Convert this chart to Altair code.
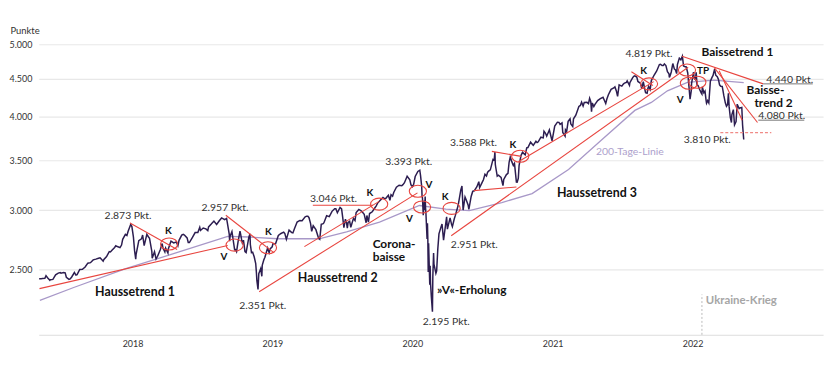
import altair as alt
import pandas as pd

# ---------------- data ----------------
price_2017 = [
    ("2017-06-01", 2430), ("2017-06-09", 2432), ("2017-06-16", 2433), ("2017-06-23", 2438),
    ("2017-06-30", 2423), ("2017-07-07", 2425), ("2017-07-14", 2459), ("2017-07-21", 2472),
    ("2017-07-28", 2472), ("2017-08-04", 2476), ("2017-08-11", 2441), ("2017-08-18", 2425),
    ("2017-08-25", 2443), ("2017-09-01", 2477), ("2017-09-08", 2461), ("2017-09-15", 2500),
    ("2017-09-22", 2502), ("2017-09-29", 2519), ("2017-10-06", 2549), ("2017-10-13", 2553),
    ("2017-10-20", 2575), ("2017-10-27", 2581), ("2017-11-03", 2588), ("2017-11-10", 2582),
    ("2017-11-15", 2565), ("2017-11-17", 2579), ("2017-11-24", 2602), ("2017-12-01", 2642),
    ("2017-12-08", 2652), ("2017-12-15", 2675), ("2017-12-22", 2683), ("2017-12-29", 2674),
    ("2017-06-06", 2429), ("2017-06-19", 2453), ("2017-06-29", 2419), ("2017-07-26", 2477),
    ("2017-08-08", 2474), ("2017-08-21", 2428), ("2017-09-05", 2457), ("2017-11-07", 2591),
    ("2017-12-04", 2639), ("2017-12-18", 2690),
]
price_2018 = [
    ("2018-01-05", 2743), ("2018-01-12", 2786), ("2018-01-19", 2810), ("2018-01-26", 2873),
    ("2018-02-02", 2762), ("2018-02-08", 2581), ("2018-02-09", 2620), ("2018-02-16", 2732),
    ("2018-02-23", 2747), ("2018-02-26", 2780), ("2018-03-02", 2691), ("2018-03-09", 2786),
    ("2018-03-13", 2765), ("2018-03-16", 2752), ("2018-03-23", 2588), ("2018-03-29", 2641),
    ("2018-04-02", 2582), ("2018-04-06", 2604), ("2018-04-13", 2656), ("2018-04-18", 2708),
    ("2018-04-20", 2670), ("2018-04-27", 2670), ("2018-05-03", 2630), ("2018-05-04", 2663),
    ("2018-05-11", 2728), ("2018-05-18", 2713), ("2018-05-25", 2721), ("2018-05-29", 2690),
    ("2018-06-01", 2735), ("2018-06-08", 2779), ("2018-06-12", 2786), ("2018-06-15", 2780),
    ("2018-06-22", 2755), ("2018-06-28", 2716), ("2018-07-06", 2760), ("2018-07-13", 2801),
    ("2018-07-20", 2802), ("2018-07-27", 2819), ("2018-08-03", 2840), ("2018-08-10", 2833),
    ("2018-08-17", 2850), ("2018-08-24", 2875), ("2018-08-31", 2902), ("2018-09-07", 2872),
    ("2018-09-14", 2905), ("2018-09-20", 2930), ("2018-09-28", 2914), ("2018-10-05", 2886),
    ("2018-10-11", 2728), ("2018-10-12", 2767), ("2018-10-17", 2809), ("2018-10-24", 2656),
    ("2018-10-26", 2658), ("2018-10-29", 2641), ("2018-11-02", 2723), ("2018-11-07", 2813),
    ("2018-11-09", 2781), ("2018-11-14", 2702), ("2018-11-16", 2736), ("2018-11-20", 2641),
    ("2018-11-23", 2633), ("2018-11-30", 2760), ("2018-12-03", 2790), ("2018-12-07", 2633),
    ("2018-12-14", 2600), ("2018-12-21", 2417), ("2018-12-24", 2351), ("2018-12-26", 2468),
    ("2018-12-31", 2507),
    ("2018-01-02", 2695), ("2018-01-16", 2776), ("2018-01-29", 2853), ("2018-02-05", 2649),
    ("2018-02-14", 2698), ("2018-03-22", 2643), ("2018-04-25", 2639), ("2018-06-25", 2717),
    ("2018-07-25", 2846), ("2018-08-15", 2818), ("2018-10-03", 2925), ("2018-10-10", 2785),
    ("2018-11-12", 2726), ("2018-12-04", 2700), ("2018-12-10", 2637), ("2018-12-18", 2546),
    ("2018-12-20", 2467),
]
price_2019 = [
    ("2019-01-03", 2448), ("2019-01-04", 2532), ("2019-01-11", 2596), ("2019-01-18", 2671),
    ("2019-01-25", 2665), ("2019-02-01", 2707), ("2019-02-08", 2708), ("2019-02-15", 2776),
    ("2019-02-22", 2793), ("2019-03-01", 2804), ("2019-03-08", 2743), ("2019-03-15", 2822),
    ("2019-03-22", 2801), ("2019-03-29", 2834), ("2019-04-05", 2893), ("2019-04-12", 2907),
    ("2019-04-18", 2905), ("2019-04-26", 2940), ("2019-05-03", 2946), ("2019-05-10", 2881),
    ("2019-05-13", 2812), ("2019-05-17", 2860), ("2019-05-24", 2826), ("2019-05-31", 2752),
    ("2019-06-03", 2744), ("2019-06-07", 2873), ("2019-06-14", 2887), ("2019-06-21", 2950),
    ("2019-06-28", 2942), ("2019-07-05", 2990), ("2019-07-12", 3014), ("2019-07-19", 2977),
    ("2019-07-26", 3026), ("2019-08-02", 2932), ("2019-08-05", 2844), ("2019-08-09", 2919),
    ("2019-08-14", 2840), ("2019-08-16", 2889), ("2019-08-23", 2847), ("2019-08-30", 2926),
    ("2019-09-06", 2979), ("2019-09-13", 3007), ("2019-09-20", 2992), ("2019-09-27", 2962),
    ("2019-10-02", 2887), ("2019-10-04", 2952), ("2019-10-11", 2970), ("2019-10-18", 2986),
    ("2019-10-25", 3023), ("2019-11-01", 3067), ("2019-11-08", 3093), ("2019-11-15", 3120),
    ("2019-11-22", 3110), ("2019-11-29", 3141), ("2019-12-03", 3093), ("2019-12-06", 3146),
    ("2019-12-13", 3169), ("2019-12-20", 3221), ("2019-12-27", 3240),
    ("2019-01-08", 2574), ("2019-01-22", 2633), ("2019-01-30", 2681), ("2019-03-04", 2792),
    ("2019-03-25", 2798), ("2019-04-30", 2946), ("2019-05-06", 2932), ("2019-06-12", 2879),
    ("2019-07-15", 3014), ("2019-07-30", 3013), ("2019-08-12", 2883), ("2019-08-20", 2900),
    ("2019-09-03", 2906), ("2019-10-08", 2893), ("2019-10-28", 3039), ("2019-11-20", 3108),
    ("2019-12-10", 3132),
]
price_2020 = [
    ("2020-01-03", 3235), ("2020-01-10", 3265), ("2020-01-17", 3330), ("2020-01-24", 3295),
    ("2020-01-31", 3226), ("2020-02-07", 3328), ("2020-02-14", 3380), ("2020-02-19", 3393),
    ("2020-02-21", 3338), ("2020-02-25", 3128), ("2020-02-28", 2954), ("2020-03-03", 3003),
    ("2020-03-04", 3130), ("2020-03-06", 2972), ("2020-03-09", 2747), ("2020-03-10", 2882),
    ("2020-03-12", 2481), ("2020-03-13", 2711), ("2020-03-16", 2386), ("2020-03-17", 2529),
    ("2020-03-20", 2305), ("2020-03-23", 2195), ("2020-03-26", 2630), ("2020-03-27", 2541),
    ("2020-04-01", 2471), ("2020-04-03", 2489), ("2020-04-09", 2790), ("2020-04-17", 2875),
    ("2020-04-21", 2737), ("2020-04-29", 2940), ("2020-05-01", 2831), ("2020-05-08", 2930),
    ("2020-05-14", 2852), ("2020-05-22", 2955), ("2020-05-29", 3044), ("2020-06-05", 3194),
    ("2020-06-08", 3232), ("2020-06-11", 3002), ("2020-06-19", 3098), ("2020-06-26", 3009),
    ("2020-07-02", 3130), ("2020-07-10", 3185), ("2020-07-17", 3225), ("2020-07-24", 3216),
    ("2020-07-31", 3271), ("2020-08-07", 3351), ("2020-08-14", 3373), ("2020-08-21", 3397),
    ("2020-08-28", 3508), ("2020-09-02", 3588), ("2020-09-04", 3427), ("2020-09-08", 3332),
    ("2020-09-11", 3341), ("2020-09-18", 3319), ("2020-09-23", 3237), ("2020-09-25", 3298),
    ("2020-10-02", 3348), ("2020-10-09", 3477), ("2020-10-12", 3534), ("2020-10-16", 3484),
    ("2020-10-23", 3465), ("2020-10-28", 3271), ("2020-10-30", 3270), ("2020-11-04", 3443),
    ("2020-11-09", 3550), ("2020-11-13", 3585), ("2020-11-20", 3557), ("2020-11-27", 3638),
    ("2020-12-04", 3699), ("2020-12-11", 3663), ("2020-12-18", 3709), ("2020-12-24", 3703),
    ("2020-12-31", 3756),
    ("2020-01-06", 3246), ("2020-01-27", 3244), ("2020-02-03", 3249), ("2020-02-24", 3226),
    ("2020-02-26", 3116), ("2020-03-02", 3090), ("2020-03-05", 3023), ("2020-03-11", 2741),
    ("2020-03-18", 2398), ("2020-03-24", 2447), ("2020-04-06", 2664), ("2020-04-14", 2846),
    ("2020-05-12", 2870), ("2020-05-19", 2922), ("2020-06-16", 3125), ("2020-06-24", 3050),
    ("2020-07-06", 3179), ("2020-07-22", 3276), ("2020-08-03", 3295), ("2020-08-11", 3333),
    ("2020-08-18", 3389), ("2020-08-31", 3500), ("2020-09-03", 3455), ("2020-10-06", 3361),
    ("2020-10-20", 3443), ("2020-11-02", 3310), ("2020-11-24", 3635), ("2020-12-09", 3672),
    ("2020-12-21", 3694),
]
price_2021 = [
    ("2021-01-06", 3748), ("2021-01-08", 3825), ("2021-01-15", 3768), ("2021-01-22", 3841),
    ("2021-01-29", 3714), ("2021-02-05", 3887), ("2021-02-12", 3934), ("2021-02-19", 3907),
    ("2021-02-26", 3811), ("2021-03-04", 3768), ("2021-03-05", 3842), ("2021-03-12", 3943),
    ("2021-03-19", 3913), ("2021-03-26", 3975), ("2021-04-01", 4020), ("2021-04-09", 4129),
    ("2021-04-16", 4185), ("2021-04-23", 4180), ("2021-04-30", 4181), ("2021-05-07", 4233),
    ("2021-05-12", 4063), ("2021-05-14", 4174), ("2021-05-21", 4156), ("2021-05-28", 4204),
    ("2021-06-04", 4230), ("2021-06-11", 4247), ("2021-06-18", 4166), ("2021-06-25", 4281),
    ("2021-07-02", 4352), ("2021-07-09", 4370), ("2021-07-16", 4327), ("2021-07-19", 4258),
    ("2021-07-23", 4412), ("2021-07-30", 4395), ("2021-08-06", 4437), ("2021-08-13", 4468),
    ("2021-08-19", 4406), ("2021-08-20", 4442), ("2021-08-27", 4509), ("2021-09-02", 4537),
    ("2021-09-10", 4459), ("2021-09-17", 4433), ("2021-09-20", 4358), ("2021-09-24", 4455),
    ("2021-09-30", 4308), ("2021-10-04", 4300), ("2021-10-08", 4391), ("2021-10-15", 4471),
    ("2021-10-22", 4545), ("2021-10-29", 4605), ("2021-11-05", 4697), ("2021-11-12", 4683),
    ("2021-11-18", 4705), ("2021-11-26", 4595), ("2021-12-01", 4513), ("2021-12-03", 4538),
    ("2021-12-10", 4712), ("2021-12-17", 4620), ("2021-12-20", 4568), ("2021-12-27", 4791),
    ("2021-12-31", 4766),
    ("2021-01-12", 3801), ("2021-01-27", 3750), ("2021-02-16", 3932), ("2021-02-24", 3925),
    ("2021-03-08", 3821), ("2021-03-17", 3974), ("2021-03-24", 3881), ("2021-04-13", 4142),
    ("2021-04-20", 4134), ("2021-05-04", 4165), ("2021-05-10", 4189), ("2021-05-18", 4128),
    ("2021-06-21", 4225), ("2021-07-12", 4385), ("2021-07-27", 4402), ("2021-08-03", 4423),
    ("2021-08-11", 4447), ("2021-08-30", 4529), ("2021-09-07", 4520), ("2021-09-28", 4353),
    ("2021-10-06", 4363), ("2021-10-12", 4351), ("2021-11-08", 4701), ("2021-11-15", 4682),
    ("2021-11-22", 4682), ("2021-11-30", 4567), ("2021-12-06", 4591), ("2021-12-14", 4634),
    ("2021-12-22", 4696),
]
price_2022 = [
    ("2022-01-04", 4819), ("2022-01-07", 4677), ("2022-01-14", 4663), ("2022-01-21", 4398),
    ("2022-01-24", 4223), ("2022-01-27", 4326), ("2022-01-28", 4432), ("2022-02-02", 4589),
    ("2022-02-04", 4500), ("2022-02-09", 4587), ("2022-02-11", 4419), ("2022-02-18", 4349),
    ("2022-02-24", 4289), ("2022-02-25", 4385), ("2022-03-04", 4329), ("2022-03-08", 4170),
    ("2022-03-11", 4204), ("2022-03-18", 4463), ("2022-03-25", 4543), ("2022-03-29", 4631),
    ("2022-04-01", 4546), ("2022-04-08", 4488), ("2022-04-14", 4393), ("2022-04-22", 4272),
    ("2022-04-29", 4132), ("2022-05-04", 4300), ("2022-05-06", 4123), ("2022-05-12", 3930),
    ("2022-05-13", 4024), ("2022-05-20", 3901), ("2022-05-27", 4158), ("2022-06-03", 4109),
    ("2022-06-08", 4116), ("2022-06-10", 3901), ("2022-06-13", 3730),
    ("2022-01-10", 4670), ("2022-01-18", 4577), ("2022-02-07", 4484), ("2022-02-14", 4401),
    ("2022-02-22", 4305), ("2022-03-01", 4306), ("2022-03-07", 4201), ("2022-03-14", 4173),
    ("2022-03-22", 4512), ("2022-04-05", 4525), ("2022-04-11", 4413), ("2022-04-18", 4391),
    ("2022-04-26", 4175), ("2022-05-02", 4155), ("2022-05-09", 3991), ("2022-05-17", 4089),
    ("2022-05-24", 3941), ("2022-06-01", 4101),
]

# 200-Tage-Linie
ma200 = [
    ("2017-06-03", 2274), ("2017-09-01", 2367), ("2018-01-13", 2506), ("2018-05-30", 2637),
    ("2018-10-06", 2768), ("2018-12-01", 2763), ("2019-02-13", 2748), ("2019-06-01", 2748),
    ("2019-08-12", 2806), ("2019-11-06", 2893), ("2020-02-18", 3044), ("2020-04-27", 3011),
    ("2020-06-27", 2996), ("2020-09-20", 3071), ("2020-12-08", 3158), ("2021-03-13", 3400),
    ("2021-06-07", 3724), ("2021-09-02", 4079), ("2021-10-15", 4180), ("2021-11-26", 4332),
    ("2022-01-17", 4445), ("2022-03-27", 4478), ("2022-06-13", 4442),
]

# red trend lines: start date, start value, end date, end value
trend_lines = [
    ("2017-06-02", 2357, "2018-10-06", 2692),   # Haussetrend 1
    ("2018-01-24", 2885, "2018-05-27", 2659),
    ("2018-10-01", 2954, "2019-02-04", 2631),
    ("2018-12-27", 2335, "2020-02-13", 3165),   # Haussetrend 2
    ("2019-04-24", 2682, "2019-11-05", 3083),
    ("2019-05-16", 3046, "2019-10-20", 3046),
    ("2020-08-25", 3596, "2020-11-10", 3541),
    ("2020-07-09", 3187, "2020-10-28", 3222),
    ("2020-05-11", 2773, "2022-01-19", 4659),   # Haussetrend 3
    ("2020-11-02", 3482, "2021-10-21", 4457),
    ("2021-08-24", 4595, "2021-10-19", 4403),
    ("2022-01-03", 4819, "2022-08-03", 4426),   # Baissetrend 1
    ("2022-03-28", 4652, "2022-07-19", 3930),   # Baissetrend 2
    ("2022-04-10", 4609, "2022-06-09", 3958),
]
underlines = [("2022-08-03", "2022-12-10", 4426), ("2022-07-21", "2022-11-18", 3958)]
support_3810 = [("2022-04-13", "2022-08-24", 3810)]
ukraine = [("2022-02-24", 2045, 2315)]

circles = [
    ("2018-05-06", 2704), ("2018-10-24", 2695), ("2019-01-19", 2673), ("2019-11-05", 3057),
    ("2020-02-14", 3181), ("2020-02-25", 3030), ("2020-05-12", 3017), ("2020-11-07", 3543),
    ("2021-10-09", 4426), ("2022-01-16", 4619), ("2022-01-21", 4434), ("2022-02-12", 4448),
]

pkt_center = [
    ("2.873 Pkt.", "2018-01-19", 2948), ("2.957 Pkt.", "2018-09-29", 3024),
    ("2.351 Pkt.", "2019-01-05", 2234), ("3.046 Pkt.", "2019-07-09", 3101),
    ("3.393 Pkt.", "2020-01-21", 3485), ("2.195 Pkt.", "2020-04-28", 2130),
    ("3.588 Pkt.", "2020-07-08", 3693), ("4.819 Pkt.", "2021-10-09", 4859),
    ("3.810 Pkt.", "2022-03-10", 3724),
]
pkt_left = [
    ("2.951 Pkt.", "2020-05-10", 2698), ("4.440 Pkt.", "2022-08-11", 4480),
    ("4.080 Pkt.", "2022-07-21", 4006),
]
marks_small = [
    ("K", "2018-05-04", 2816), ("V", "2018-09-26", 2596), ("K", "2019-01-20", 2802),
    ("K", "2019-10-12", 3159), ("V", "2020-03-14", 3246), ("V", "2020-01-23", 2918),
    ("K", "2020-04-25", 3127), ("K", "2020-10-19", 3667), ("K", "2021-09-25", 4599),
    ("TP", "2022-02-27", 4609), ("V", "2021-12-29", 4205),
]
trend_names = [
    ("Haussetrend 1", "2018-02-06", 2334), ("Haussetrend 2", "2019-07-20", 2436),
    ("Haussetrend 3", "2021-05-26", 3165),
]
bold_left = [
    ("Corona-", "2019-10-19", 2703), ("baisse", "2019-10-19", 2594),
    ("»V«-Erholung", "2020-04-04", 2345), ("Baissetrend 1", "2022-02-23", 4884),
    ("Baisse-", "2022-06-20", 4345), ("trend 2", "2022-07-11", 4170),
]
ma_label = [("200-Tage-Linie", "2021-08-20", 3593)]
war_label = [("Ukraine-Krieg", "2022-03-06", 2268)]

y_ticks = [2500, 3000, 3500, 4000, 4500, 5000]
x_ticks = [2018, 2019, 2020, 2021, 2022]

# ---------------- frames ----------------
price_df = pd.DataFrame(price_2017 + price_2018 + price_2019 + price_2020 + price_2021 + price_2022,
                        columns=["date", "v"]).sort_values("date").reset_index(drop=True)
ma_df = pd.DataFrame(ma200, columns=["date", "v"])
tl_df = pd.DataFrame(trend_lines, columns=["d1", "v1", "d2", "v2"])
ul_df = pd.DataFrame(underlines, columns=["d1", "d2", "v"])
sup_df = pd.DataFrame(support_3810, columns=["d1", "d2", "v"])
uk_df = pd.DataFrame(ukraine, columns=["date", "v1", "v2"])
circ_df = pd.DataFrame(circles, columns=["date", "v"])


def tdf(rows):
    return pd.DataFrame(rows, columns=["label", "date", "v"])


FONT = "Lato"
RED = "#e8453f"
xscale = alt.Scale(domain=[alt.DateTime(year=2017, month=5, date=31),
                           alt.DateTime(year=2023, month=1, date=6)])
yscale = alt.Scale(type="log", domain=[2045, 5000])

x_axis = alt.Axis(
    values=[alt.DateTime(year=y, month=1, date=1) for y in x_ticks],
    format="%Y", labelAlign="left", labelOffset=1, labelPadding=5,
    ticks=False, tickSize=0, grid=False, domainColor="#dddddd", domainWidth=1.2,
    labelFont=FONT, labelFontSize=9, labelColor="#333333", title="",
)
y_axis = alt.Axis(
    values=y_ticks, labelExpr="replace(format(datum.value, ','), ',', '.')",
    grid=True, gridColor="#e8e8e8", gridWidth=1.2, domain=False, ticks=False, tickSize=0,
    labelPadding=7, labelFont=FONT, labelFontSize=9, labelColor="#333333",
    title="Punkte", titleAngle=0, titleAlign="left", titleBaseline="middle",
    titleX=-29, titleY=-14, titleFont=FONT, titleFontSize=9.5, titleFontWeight="normal",
    titleColor="#333333",
)


def X(f):
    return alt.X(f, scale=xscale, axis=x_axis)


def Y(f):
    return alt.Y(f, scale=yscale, axis=y_axis)


ma_line = alt.Chart(ma_df).mark_line(color="#a898c8", strokeWidth=1.3).encode(
    x=X("date:T"), y=Y("v:Q"))
price_line = alt.Chart(price_df).mark_line(color="#2c1d50", strokeWidth=1.5).encode(
    x=X("date:T"), y=Y("v:Q"))
trend = alt.Chart(tl_df).mark_rule(color=RED, strokeWidth=1.1).encode(
    x=X("d1:T"), x2="d2:T", y=Y("v1:Q"), y2="v2:Q")
under = alt.Chart(ul_df).mark_rule(color="#666666", strokeWidth=0.9).encode(
    x=X("d1:T"), x2="d2:T", y=Y("v:Q"))
sup = alt.Chart(sup_df).mark_rule(color="#f08a86", strokeWidth=1.2, strokeDash=[3, 2]).encode(
    x=X("d1:T"), x2="d2:T", y=Y("v:Q"))
uk = alt.Chart(uk_df).mark_rule(color="#bbbbbb", strokeWidth=1, strokeDash=[2, 2]).encode(
    x=X("date:T"), y=Y("v1:Q"), y2="v2:Q")

ELLIPSE = ("M -1 0 C -1 -0.3866 -0.5523 -0.7 0 -0.7 C 0.5523 -0.7 1 -0.3866 1 0 "
           "C 1 0.3866 0.5523 0.7 0 0.7 C -0.5523 0.7 -1 0.3866 -1 0 Z")
circ = alt.Chart(circ_df).mark_point(shape=ELLIPSE, size=300, filled=False, color=RED,
                                     strokeWidth=1.1, opacity=1).encode(
    x=X("date:T"), y=Y("v:Q"))


def text_layer(rows, **kw):
    return alt.Chart(tdf(rows)).mark_text(font=FONT, baseline="middle", **kw).encode(
        x=X("date:T"), y=Y("v:Q"), text="label:N")


t1 = text_layer(pkt_center, fontSize=10.5, align="center", color="#333333")
t2 = text_layer(pkt_left, fontSize=10.5, align="left", color="#333333")
t3 = text_layer(marks_small, fontSize=10, fontWeight="bold", align="center", color="#111111")
t4 = text_layer(trend_names, fontSize=12.5, fontWeight="bold", align="center", color="#111111")
t5 = text_layer(bold_left, fontSize=12, fontWeight="bold", align="left", color="#111111")
t6 = text_layer(ma_label, fontSize=10.5, align="center", color="#ad9fcc")
t7 = text_layer(war_label, fontSize=11.5, fontWeight="bold", align="left", color="#a6a6a6")

chart = alt.layer(ma_line, uk, price_line, trend, under, sup, circ, t1, t2, t3, t4, t5, t6, t7).properties(
    width=791, height=293,
    autosize=alt.AutoSizeParams(type="none"),
    padding={"left": 31, "top": 35, "right": 9, "bottom": 37},
).configure_view(strokeOpacity=0)

chart.save("out.html", embed_options={"renderer": "svg", "actions": False})
